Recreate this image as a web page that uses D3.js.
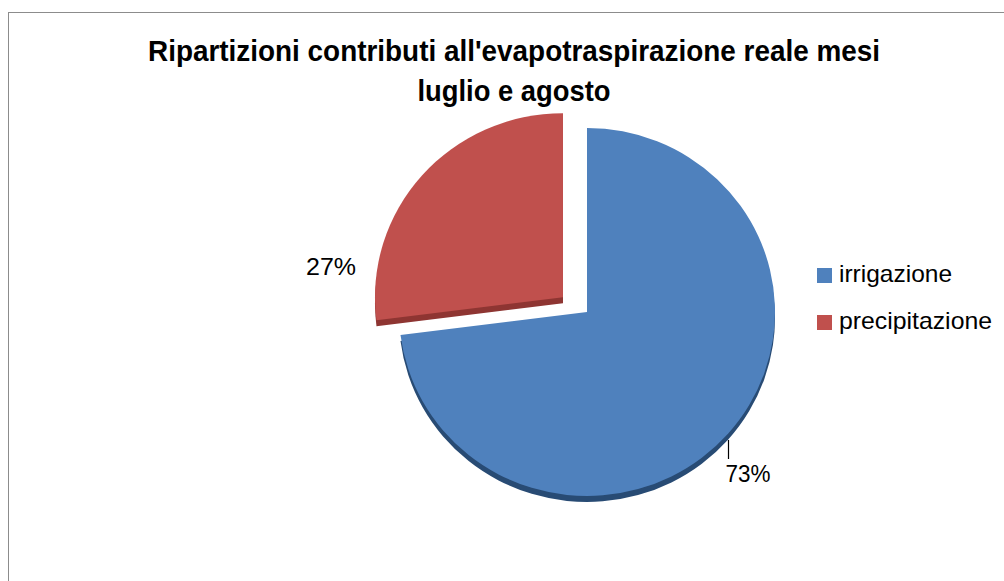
<!DOCTYPE html>
<html><head><meta charset="utf-8">
<script src="https://cdn.jsdelivr.net/npm/d3@7"></script>
<style>body{margin:0;background:#fff}svg{display:block}</style>
</head><body>
<script>
const categories = ["irrigazione", "precipitazione"];
const values = [73, 27];
const labels = ["73%", "27%"];
const colors = ["#4F81BD", "#C0504D"];
const sideColors = ["#284B74", "#8E3532"];
const titleLines = ["Ripartizioni contributi all'evapotraspirazione reale mesi", "luglio e agosto"];

const W = 1004, H = 581;
const font = "'Liberation Sans Narrow', 'Arial Narrow', 'Liberation Sans', Arial, sans-serif";
const svg = d3.select("body").append("svg").attr("width", W).attr("height", H);

svg.append("rect").attr("x", 8.5).attr("y", 12.5).attr("width", W + 10).attr("height", H + 10)
  .attr("fill", "#fff").attr("stroke", "#8c8c8c").attr("stroke-width", 1);

function narrowText(sel, x, y, str, size, width, anchor, weight) {
  const t = sel.append("text").attr("x", x).attr("y", y).attr("text-anchor", anchor)
    .attr("font-family", font).attr("font-size", size).attr("font-weight", weight || "normal")
    .attr("fill", "#000").text(str);
  t.attr("textLength", width).attr("lengthAdjust", "spacingAndGlyphs");
  return t;
}

const titleWidths = [732, 193];
titleLines.forEach((d, i) => narrowText(svg, 514, 61 + i * 40, d, 30, titleWidths[i], "middle", "bold"));

const cx = 587, cy = 312, r = 188, ryScale = 184 / 188, depth = 6, explode = [0, 32];
const pie = d3.pie().sort(null).value(d => d)(values);
const arc = d3.arc().innerRadius(0).outerRadius(r);

const g = svg.append("g").attr("transform", `translate(${cx},${cy})`);
pie.forEach((p, i) => {
  const mid = (p.startAngle + p.endAngle) / 2;
  const dx = explode[i] * Math.sin(mid), dy = -explode[i] * Math.cos(mid) * 0.7;
  const sg = g.append("g").attr("transform", `translate(${dx},${dy})`);
  sg.append("path").attr("d", arc(p)).attr("transform", `translate(0,${depth}) scale(1,${ryScale})`).attr("fill", sideColors[i]);
  sg.append("path").attr("d", arc(p)).attr("transform", `scale(1,${ryScale})`).attr("fill", colors[i]);
});

narrowText(svg, 331, 275, labels[1], 24, 50, "middle");
svg.append("line").attr("x1", 728.5).attr("x2", 728.5).attr("y1", 440).attr("y2", 459)
  .attr("stroke", "#000").attr("stroke-width", 1.2);
narrowText(svg, 748, 482, labels[0], 24, 45, "middle");

const legendWidths = [113, 153];
categories.forEach((d, i) => {
  const lg = svg.append("g").attr("transform", `translate(817,${268 + i * 47})`);
  lg.append("rect").attr("width", 15).attr("height", 15).attr("fill", colors[i]);
  narrowText(lg, 22, 14, d, 24, legendWidths[i], "start");
});
</script>
</body></html>
